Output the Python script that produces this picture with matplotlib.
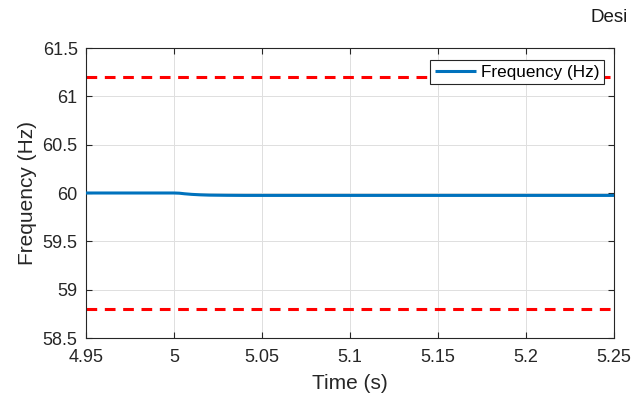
import matplotlib
matplotlib.use("Agg")
import matplotlib.pyplot as plt

# Simulated grid frequency after the disturbance at t = 5 s
time_s = [4.95, 4.98, 5.0, 5.003, 5.006, 5.01, 5.015, 5.02, 5.03, 5.04, 5.06, 5.1, 5.15, 5.2, 5.25]
freq_hz = [60.0, 60.0, 60.0, 59.998, 59.992, 59.986, 59.981, 59.978, 59.976, 59.975, 59.975, 59.975, 59.975, 59.975, 59.975]

# Protection limits
upper_limit = 61.2
lower_limit = 58.8

x_ticks = [4.95, 5.0, 5.05, 5.1, 5.15, 5.2, 5.25]
x_tick_labels = ["4.95", "5", "5.05", "5.1", "5.15", "5.2", "5.25"]
y_ticks = [58.5, 59, 59.5, 60, 60.5, 61, 61.5]
y_tick_labels = ["58.5", "59", "59.5", "60", "60.5", "61", "61.5"]

plt.rcParams["font.family"] = ["Liberation Sans", "DejaVu Sans"]

fig = plt.figure(figsize=(6.35, 3.99), dpi=100)
ax = fig.add_axes([86 / 635, 1 - 338 / 399, (614 - 86) / 635, (338 - 48) / 399])

ax.plot(time_s, freq_hz, color="#0072BD", lw=2.2, label="Frequency (Hz)", zorder=3,
        solid_capstyle="butt")
ax.axhline(upper_limit, color="#FF0000", lw=2.2, ls=(0, (3.5, 2.5)), zorder=2)
ax.axhline(lower_limit, color="#FF0000", lw=2.2, ls=(0, (3.5, 2.5)), zorder=2)

ax.set_xlim(4.95, 5.25)
ax.set_ylim(58.5, 61.5)
ax.set_xticks(x_ticks)
ax.set_xticklabels(x_tick_labels)
ax.set_yticks(y_ticks)
ax.set_yticklabels(y_tick_labels)
ax.tick_params(labelsize=13, colors="#262626", direction="in", length=4, width=0.8,
               top=True, right=True)
ax.tick_params(axis="x", pad=8)
ax.tick_params(axis="y", pad=6)
ax.grid(True, color="#DFDFDF", lw=0.7)
for s in ax.spines.values():
    s.set_color("#262626")
    s.set_linewidth(0.8)

ax.set_xlabel("Time (s)", fontsize=15, color="#262626", labelpad=6)
ax.set_ylabel("Frequency (Hz)", fontsize=15, color="#262626", labelpad=4)

leg = ax.legend(loc="upper right", fontsize=12.3, frameon=True, fancybox=False,
                borderpad=0.25, borderaxespad=0.3, handlelength=2.4, handletextpad=0.3,
                bbox_to_anchor=(0.99, 0.975), framealpha=1)
leg.get_frame().set_edgecolor("#262626")
leg.get_frame().set_linewidth(0.8)

fig.text(590 / 635, 1 - 18 / 399, "Desi", fontsize=13.5, color="#1a1a1a",
         ha="left", va="center")

fig.savefig("out.png", dpi=100, facecolor="white")
